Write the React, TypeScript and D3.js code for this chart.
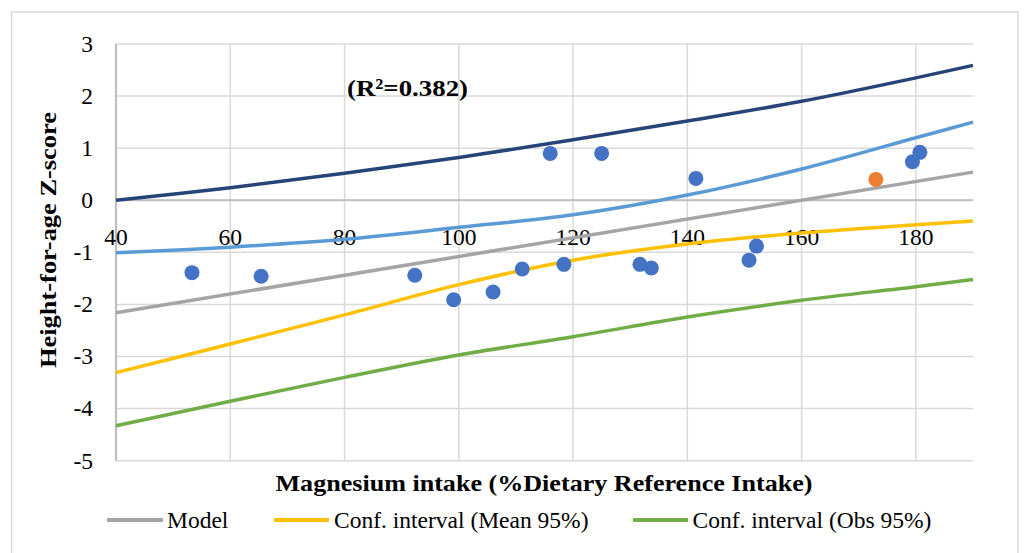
import React from "react";
import * as d3 from "d3";

// ---- data ----
const xTicks = [40, 60, 80, 100, 120, 140, 160, 180];
const yTicks = [-5, -4, -3, -2, -1, 0, 1, 2, 3];

const obsX = [53.3, 65.4, 92.3, 99.1, 106.0, 111.1, 118.4, 116.0, 125.0, 131.7, 133.7, 141.5, 150.8, 152.1, 179.4, 180.7];
const obsY = [-1.39, -1.46, -1.44, -1.91, -1.76, -1.32, -1.23, 0.90, 0.90, -1.23, -1.30, 0.42, -1.15, -0.88, 0.74, 0.92];
const highlightX = [173.0];
const highlightY = [0.40];

const modelX = [40, 190];
const modelY = [-2.16, 0.54];

const curveX = [40, 60, 80, 100, 120, 140, 160, 180, 190];
const meanUpper = [-1.01, -0.9, -0.75, -0.52, -0.28, 0.1, 0.6, 1.2, 1.5];
const meanLower = [-3.31, -2.76, -2.2, -1.62, -1.15, -0.84, -0.63, -0.47, -0.4];
const obsUpper = [0.0, 0.24, 0.52, 0.82, 1.16, 1.52, 1.9, 2.35, 2.59];
const obsLower = [-4.33, -3.86, -3.4, -2.97, -2.62, -2.24, -1.92, -1.66, -1.52];

const legendItems = ["Model", "Conf. interval (Mean 95%)", "Conf. interval (Obs 95%)"];

const W = 1024;
const H = 553;
const plot = { left: 116, right: 973, top: 44, bottom: 460.7 };
const FONT = "'Liberation Serif', 'Times New Roman', serif";

const C = {
  grid: "#d9d9d9",
  axis: "#bfbfbf",
  model: "#a5a5a5",
  mean: "#ffc000",
  obs: "#70ad47",
  obsUp: "#264478",
  meanUp: "#5b9bd5",
  point: "#4472c4",
  highlight: "#ed7d31",
};

export default function App() {
  const x = d3.scaleLinear().domain([40, 190]).range([plot.left, plot.right]);
  const y = d3.scaleLinear().domain([-5, 3]).range([plot.bottom, plot.top]);

  const curve = (ys: number[]) =>
    d3
      .line<number>()
      .x((_, i) => x(curveX[i]))
      .y((v) => y(v))
      .curve(d3.curveCatmullRom.alpha(0.5))(ys) as string;

  const modelPath = d3
    .line<number>()
    .x((_, i) => x(modelX[i]))
    .y((v) => y(v))(modelY) as string;

  const legendPos = [
    { x1: 107, x2: 163, tx: 167, color: C.model },
    { x1: 274, x2: 329, tx: 334, color: C.mean },
    { x1: 633, x2: 688, tx: 692.5, color: C.obs },
  ];

  return (
    <svg
      width={W}
      height={H}
      style={{ position: "absolute", left: 0, top: 0, background: "#fff" }}
      fontFamily={FONT}
    >
      <rect x={0} y={0} width={W} height={H} fill="#fff" />
      <rect x={11.5} y={12} width={1006.5} height={H + 20} fill="none" stroke={C.grid} strokeWidth={1.5} />

      {/* gridlines */}
      {yTicks.map((t) => (
        <line key={"gy" + t} x1={plot.left} x2={plot.right} y1={y(t)} y2={y(t)} stroke={C.grid} strokeWidth={1.5} />
      ))}
      {xTicks.map((t) => (
        <line key={"gx" + t} x1={x(t)} x2={x(t)} y1={plot.top} y2={plot.bottom} stroke={C.grid} strokeWidth={1.5} />
      ))}
      {/* axes */}
      <line x1={plot.left} x2={plot.right} y1={y(0)} y2={y(0)} stroke={C.axis} strokeWidth={2.2} />
      <line x1={plot.left} x2={plot.left} y1={plot.top} y2={plot.bottom} stroke={C.axis} strokeWidth={2.2} />

      {/* tick labels */}
      {yTicks.map((t) => (
        <text key={"ty" + t} x={93} y={y(t) + 7.8} textAnchor="end" fontSize={23.5} fill="#000">
          {t}
        </text>
      ))}
      {xTicks.map((t) => (
        <text key={"tx" + t} x={x(t)} y={245} textAnchor="middle" fontSize={23.5} fill="#000">
          {t}
        </text>
      ))}

      {/* lines */}
      <path d={curve(obsLower)} fill="none" stroke={C.obs} strokeWidth={3.5} />
      <path d={curve(obsUpper)} fill="none" stroke={C.obsUp} strokeWidth={3.5} />
      <path d={curve(meanLower)} fill="none" stroke={C.mean} strokeWidth={3.5} />
      <path d={curve(meanUpper)} fill="none" stroke={C.meanUp} strokeWidth={3.5} />
      <path d={modelPath} fill="none" stroke={C.model} strokeWidth={3.5} />

      {/* points */}
      {obsX.map((v, i) => (
        <circle key={"p" + i} cx={x(v)} cy={y(obsY[i])} r={7.5} fill={C.point} />
      ))}
      {highlightX.map((v, i) => (
        <circle key={"h" + i} cx={x(v)} cy={y(highlightY[i])} r={7.5} fill={C.highlight} />
      ))}

      {/* annotation */}
      <text x={347} y={95.5} fontSize={24} fontWeight="bold" textLength={121} lengthAdjust="spacingAndGlyphs">
        (R²=0.382)
      </text>

      {/* axis titles */}
      <text
        x={544}
        y={491}
        textAnchor="middle"
        fontSize={24}
        fontWeight="bold"
        textLength={537}
        lengthAdjust="spacingAndGlyphs"
      >
        Magnesium intake (%Dietary Reference Intake)
      </text>
      <text
        transform={`translate(56,240) rotate(-90)`}
        textAnchor="middle"
        fontSize={24}
        fontWeight="bold"
        textLength={256}
        lengthAdjust="spacingAndGlyphs"
      >
        Height-for-age Z-score
      </text>

      {/* legend */}
      {legendItems.map((label, i) => (
        <g key={"l" + i}>
          <line x1={legendPos[i].x1} x2={legendPos[i].x2} y1={520} y2={520} stroke={legendPos[i].color} strokeWidth={4} />
          <text x={legendPos[i].tx} y={527.5} fontSize={23.5} fill="#000">
            {label}
          </text>
        </g>
      ))}
    </svg>
  );
}
